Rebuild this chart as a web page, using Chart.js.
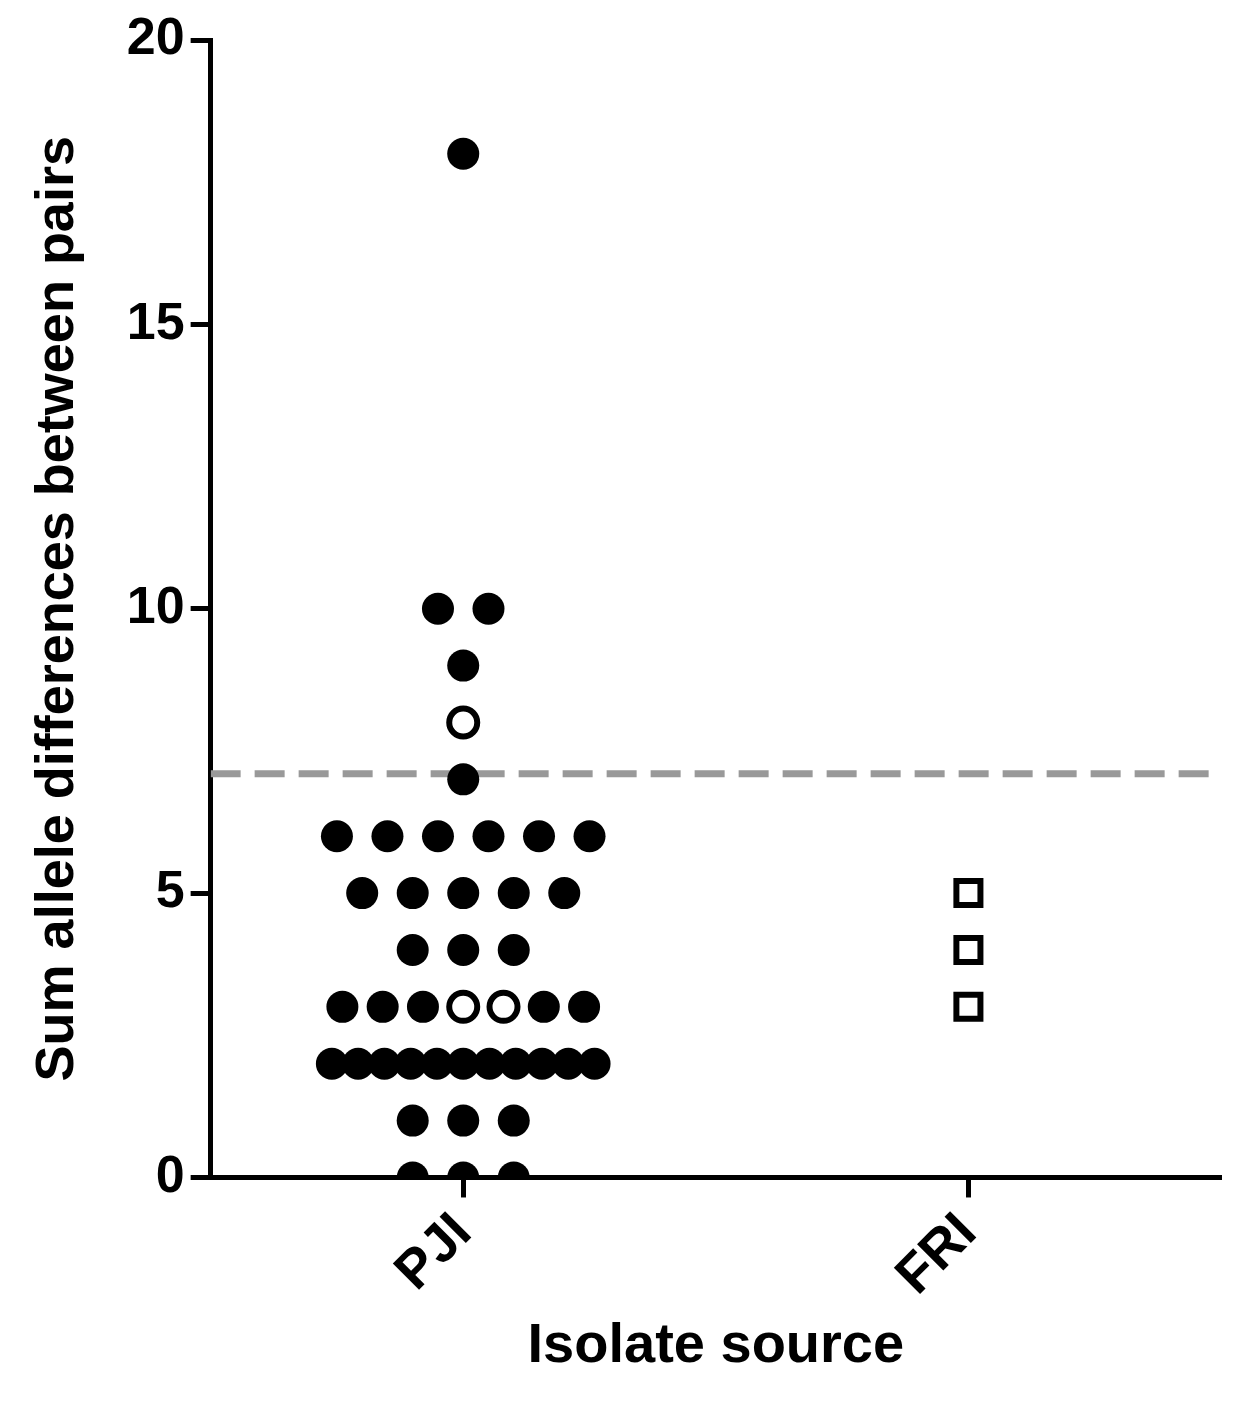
<!DOCTYPE html>
<html>
<head>
<meta charset="utf-8">
<script src="https://cdn.jsdelivr.net/npm/chart.js@4"></script>
<style>
  body { margin: 0; background: #fff; }
  #wrap { width: 1244px; height: 1406px; }
</style>
</head>
<body>
<div id="wrap"><canvas id="chart"></canvas></div>
<script>
// values
const categories = ['PJI', 'FRI'];
const pjiFilled = [0,0,0, 1,1,1, 2,2,2,2,2,2,2,2,2,2,2, 3,3,3,3,3, 4,4,4, 5,5,5,5,5, 6,6,6,6,6,6, 7, 9, 10,10, 18];
const pjiOpen = [3, 3, 8];
const friOpen = [3, 4, 5];
const threshold = 7.1;

// spread equal values sideways like a column scatter
function swarm(center, filled, open) {
  const all = filled.map(v => ({ v, open: false })).concat(open.map(v => ({ v, open: true })));
  const byVal = {};
  all.forEach(p => (byVal[p.v] = byVal[p.v] || []).push(p));
  const f = [], o = [];
  Object.keys(byVal).forEach(k => {
    const row = byVal[k];
    const n = row.length;
    const opens = row.filter(p => p.open), fills = row.filter(p => !p.open);
    const half = Math.ceil(fills.length / 2);
    const order = [...fills.slice(0, half), ...opens, ...fills.slice(half)];
    const step = n > 1 ? Math.min(0.1, 0.52 / (n - 1)) * (n === 7 ? 0.92 : 1) : 0;
    order.forEach((p, i) => {
      const pt = { x: center + (i - (n - 1) / 2) * step, y: p.v };
      (p.open ? o : f).push(pt);
    });
  });
  return { f, o };
}

const pji = swarm(1, pjiFilled, pjiOpen);
const fri = swarm(2, [], friOpen);

const font = 'Liberation Sans, Arial, sans-serif';

new Chart(document.getElementById('chart'), {
  type: 'scatter',
  data: {
    datasets: [
      { type: 'line', data: [{ x: 0.5, y: threshold }, { x: 2.5, y: threshold }],
        borderColor: '#999', borderWidth: 7, borderDash: [30, 14], pointRadius: 0, order: 3 },
      { data: pji.f, backgroundColor: '#000', borderColor: '#000', pointRadius: 16, borderWidth: 0, order: 1 },
      { data: pji.o, backgroundColor: '#fff', borderColor: '#000', pointRadius: 14, borderWidth: 6, order: 0 },
      { data: fri.o, pointStyle: 'rect', backgroundColor: '#fff', borderColor: '#000', pointRadius: 17, borderWidth: 6, order: 0 }
    ]
  },
  options: {
    responsive: true,
    maintainAspectRatio: false,
    animation: false,
    layout: { padding: { top: 40, right: 14, left: 22, bottom: 22 } },
    plugins: { legend: { display: false }, tooltip: { enabled: false } },
    scales: {
      x: {
        type: 'linear', min: 0.5, max: 2.5,
        afterBuildTicks: s => { s.ticks = categories.map((c, i) => ({ value: i + 1 })); },
        grid: { display: true, drawOnChartArea: false, tickLength: 20, tickWidth: 5, color: '#000' },
        border: { color: '#000', width: 5 },
        ticks: { callback: v => categories[v - 1], maxRotation: 45, minRotation: 45, color: '#000',
                 font: { family: font, size: 54, weight: 'bold' }, padding: 4 },
        title: { display: true, text: 'Isolate source', color: '#000', font: { family: font, size: 56, weight: 'bold' }, padding: { top: 0 } }
      },
      y: {
        min: 0, max: 20,
        grid: { display: true, drawOnChartArea: false, tickLength: 20, tickWidth: 5, color: '#000' },
        border: { color: '#000', width: 5 },
        ticks: { stepSize: 5, color: '#000', font: { family: font, size: 52, weight: 'bold' }, padding: 6 },
        title: { display: true, text: 'Sum allele differences between pairs', color: '#000', font: { family: font, size: 54, weight: 'bold' }, padding: { bottom: 30 } }
      }
    }
  }
});
</script>
</body>
</html>
